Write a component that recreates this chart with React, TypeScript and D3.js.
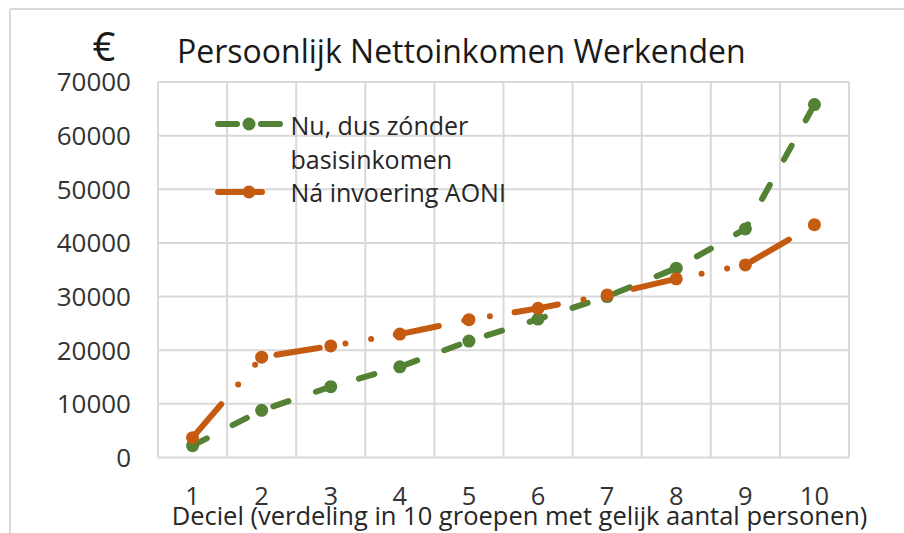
import React from "react";
import * as d3 from "d3";

const deciles = ["1", "2", "3", "4", "5", "6", "7", "8", "9", "10"];
const nuValues = [2200, 8800, 13200, 16900, 21700, 25800, 30000, 35300, 42600, 65800];
const naValues = [3700, 18700, 20800, 23000, 25700, 27800, 30300, 33300, 35900, 43400];
const yTicks = [0, 10000, 20000, 30000, 40000, 50000, 60000, 70000];
const nuLabel = ["Nu, dus zónder", "basisinkomen"];
const naLabel = ["Ná invoering AONI"];
const title = "Persoonlijk Nettoinkomen Werkenden";
const xTitle = "Deciel (verdeling in 10 groepen met gelijk aantal personen)";
const yUnit = "€";

const W = 904;
const H = 533;
const GREEN = "#548235";
const ORANGE = "#C55A11";
const GRID = "#D9D9D9";
const FONT = "'Open Sans', sans-serif";

export default function App() {
  const x = d3.scaleBand<string>().domain(deciles).range([158, 849]).padding(0);
  const y = d3.scaleLinear().domain([0, 70000]).range([457.5, 82]);
  const cx = (d: string) => (x(d) as number) + x.bandwidth() / 2;
  const line = d3
    .line<number>()
    .x((_, i) => cx(deciles[i]))
    .y((v) => y(v));
  const bounds = [...deciles.map((d) => x(d) as number), 849];

  return (
    <svg
      width={W}
      height={H}
      style={{ position: "absolute", left: 0, top: 0, background: "#fff" }}
      fontFamily={FONT}
    >
      <rect x={0} y={0} width={W} height={H} fill="#fff" />
      {/* chart border */}
      <line x1={10} y1={9} x2={W} y2={9} stroke={GRID} strokeWidth={2} />
      <line x1={10} y1={9} x2={10} y2={H} stroke={GRID} strokeWidth={2} />

      {/* gridlines */}
      {yTicks.map((t) => (
        <line key={"h" + t} x1={158} x2={849} y1={y(t)} y2={y(t)} stroke={GRID} strokeWidth={2} />
      ))}
      {bounds.map((b, i) => (
        <line key={"v" + i} x1={b} x2={b} y1={y(70000)} y2={y(0)} stroke={GRID} strokeWidth={2} />
      ))}

      {/* y labels */}
      {yTicks.map((t) => (
        <text key={"yl" + t} x={131} y={y(t) + 9.3} textAnchor="end" fontSize={26} fill="#333">
          {t}
        </text>
      ))}
      {/* x labels */}
      {deciles.map((d) => (
        <text key={"xl" + d} x={cx(d)} y={505} textAnchor="middle" fontSize={25.5} fill="#333">
          {d}
        </text>
      ))}
      <text x={519.5} y={525} textAnchor="middle" fontSize={25.5} fill="#262626">
        {xTitle}
      </text>

      {/* titles */}
      <text x={104} y={61} textAnchor="middle" fontSize={40} fill="#1a1a1a">
        {yUnit}
      </text>
      <text x={177} y={63} fontSize={32} fill="#1a1a1a">
        {title}
      </text>

      {/* series: green (Nu) */}
      <path
        d={line(nuValues) || ""}
        fill="none"
        stroke={GREEN}
        strokeWidth={6}
        strokeLinecap="round"
        strokeLinejoin="round"
        strokeDasharray="16 29"
      />
      {nuValues.map((v, i) => (
        <circle key={"gn" + i} cx={cx(deciles[i])} cy={y(v)} r={6.5} fill={GREEN} />
      ))}

      {/* series: orange (Na) */}
      <path
        d={line(naValues) || ""}
        fill="none"
        stroke={ORANGE}
        strokeWidth={6}
        strokeLinecap="round"
        strokeLinejoin="round"
        strokeDasharray="44 26 0 26 0 25"
      />
      {naValues.map((v, i) => (
        <circle key={"on" + i} cx={cx(deciles[i])} cy={y(v)} r={6.5} fill={ORANGE} />
      ))}

      {/* legend */}
      <g>
        <line x1={218} x2={280} y1={124} y2={124} stroke={GREEN} strokeWidth={6} strokeLinecap="round" strokeDasharray="19 24" />
        <circle cx={249} cy={124} r={6.5} fill={GREEN} />
        <text x={290.5} y={135} fontSize={25} fill="#262626">
          {nuLabel.map((l, i) => (
            <tspan key={i} x={290.5} dy={i === 0 ? 0 : 34}>
              {l}
            </tspan>
          ))}
        </text>
        <line x1={218} x2={280} y1={192} y2={192} stroke={ORANGE} strokeWidth={6} strokeLinecap="round" strokeDasharray="44 26 0 26 0 25" />
        <circle cx={249} cy={192} r={6.5} fill={ORANGE} />
        <text x={290.5} y={202} fontSize={25} fill="#262626">
          {naLabel[0]}
        </text>
      </g>
    </svg>
  );
}
